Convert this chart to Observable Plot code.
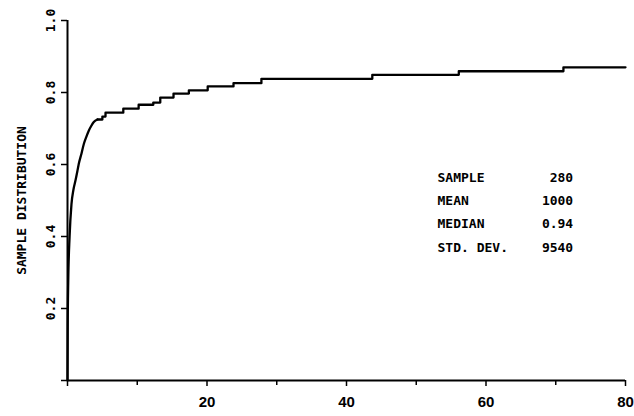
<!DOCTYPE html>
<html>
<head>
<meta charset="utf-8">
<script src="https://cdn.jsdelivr.net/npm/d3@7"></script>
<script src="https://cdn.jsdelivr.net/npm/@observablehq/plot@0.6"></script>
<style>
  html, body { margin: 0; padding: 0; background: #fff; }
</style>
</head>
<body>
<div id="chart"></div>
<script>
const stepX = [0, 0.03, 0.1, 0.3, 0.57, 0.85, 1.15, 1.43, 1.62, 2.0, 2.34, 2.7, 3.05, 3.4, 3.77, 4.3, 5.0, 5.45, 8.0, 10.2, 12.3, 13.3, 15.2, 17.4, 20.1, 23.8, 27.8, 43.7, 56.1, 71.1, 80];
const stepY = [0, 0.15, 0.27, 0.40, 0.49, 0.53, 0.556, 0.583, 0.602, 0.63, 0.657, 0.677, 0.694, 0.707, 0.718, 0.725, 0.733, 0.744, 0.755, 0.766, 0.772, 0.786, 0.797, 0.806, 0.817, 0.826, 0.838, 0.849, 0.859, 0.870, 0.870];
// below this x the many tiny steps blend into a smooth rise
const smoothEnd = 4.3;

const xTicks = [0, 20, 40, 60, 80];
const xMinorTicks = [10, 30, 50, 70];
const yTicks = [0, 0.2, 0.4, 0.6, 0.8, 1.0];
const yTickLabels = [0.2, 0.4, 0.6, 0.8, 1.0];

const statLabels = ["SAMPLE", "MEAN", "MEDIAN", "STD. DEV."];
const statValues = ["280", "1000", "0.94", "9540"];

const yTitle = "SAMPLE DISTRIBUTION";

const data = stepX.map((x, i) => ({x, y: stepY[i]}));
const smooth = data.filter(d => d.x <= smoothEnd);
const steps = data.filter(d => d.x >= smoothEnd);
const mono = "'DejaVu Sans Mono', monospace";
const sans = "'Liberation Sans', Arial, sans-serif";

const chart = Plot.plot({
  width: 634,
  height: 416,
  marginLeft: 67,
  marginRight: 9,
  marginTop: 20,
  marginBottom: 36,
  x: {domain: [0, 80]},
  y: {domain: [0, 1]},
  style: {background: "white", color: "black", fontFamily: mono},
  marks: [
    Plot.axisX({ticks: xTicks, tickSize: 6, tickPadding: 10, tickFormat: d => d === 0 ? "" : String(d), fontSize: 15, fontFamily: sans, fontWeight: "bold", label: null, strokeWidth: 1.5}),
    Plot.axisX({ticks: xMinorTicks, tickSize: 5, tickFormat: () => "", label: null, strokeWidth: 1.5}),
    Plot.axisY({ticks: yTicks, tickSize: 6, tickFormat: () => "", label: null, strokeWidth: 1.5}),
    Plot.text(yTickLabels, {y: d => d, text: d => d.toFixed(1), frameAnchor: "left", dx: -17, rotate: -90, textAnchor: "middle", lineAnchor: "middle", fontSize: 13, fontWeight: "bold", fontFamily: mono}),
    Plot.text([yTitle], {y: () => 0.5, text: d => d, frameAnchor: "left", dx: -46, rotate: -90, textAnchor: "middle", lineAnchor: "middle", fontSize: 13, fontWeight: "bold", fontFamily: mono}),
    Plot.ruleX([0], {y1: 0, y2: 1, strokeWidth: 2}),
    Plot.ruleY([0], {x1: 0, x2: 80, strokeWidth: 2}),
    Plot.line(smooth, {x: "x", y: "y", curve: "monotone-x", stroke: "black", strokeWidth: 2.3}),
    Plot.line(steps, {x: "x", y: "y", curve: "step-after", stroke: "black", strokeWidth: 2.3}),
    Plot.text(statLabels, {x: () => 53.05, y: (d, i) => 0.564 - i * 0.065, text: d => d, textAnchor: "start", fontSize: 13, fontWeight: "bold", fontFamily: mono}),
    Plot.text(statValues, {x: () => 72.5, y: (d, i) => 0.564 - i * 0.065, text: d => d, textAnchor: "end", fontSize: 13, fontWeight: "bold", fontFamily: mono})
  ]
});
document.getElementById("chart").appendChild(chart);
</script>
</body>
</html>
